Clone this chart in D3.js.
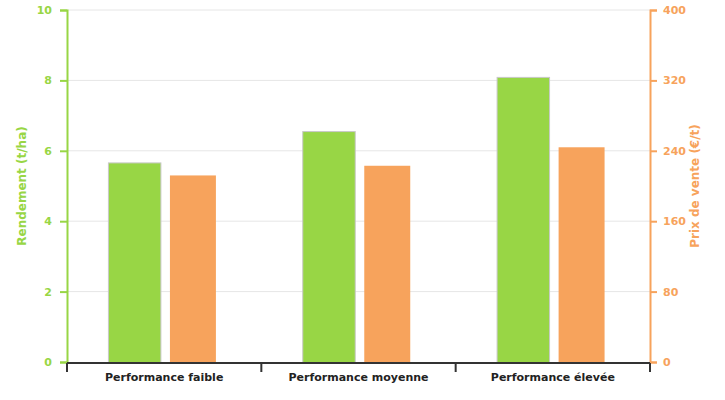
<!DOCTYPE html>
<html>
<head>
<meta charset="utf-8">
<script src="https://cdn.jsdelivr.net/npm/d3@7"></script>
<style>
  body { margin: 0; background: #fff; }
  svg text { font-family: "DejaVu Sans", sans-serif; font-weight: bold; }
</style>
</head>
<body>
<div id="chart"></div>
<script>
const categories = ['Performance faible', 'Performance moyenne', 'Performance élevée'];
const rendement = [5.67, 6.56, 8.1];      // t/ha
const prix = [212, 223, 244];             // €/t
const leftTicks = [0, 2, 4, 6, 8, 10];
const rightTicks = [0, 80, 160, 240, 320, 400];

const width = 725, height = 400;
const margin = { top: 10, right: 75, bottom: 38, left: 67 };
const innerW = width - margin.left - margin.right;
const innerH = height - margin.top - margin.bottom;

const green = '#98d645', orange = '#f7a35c';

const svg = d3.select('#chart')
  .append('svg')
  .attr('width', width)
  .attr('height', height);

const g = svg.append('g')
  .attr('transform', `translate(${margin.left},${margin.top})`);

const x0 = d3.scaleBand()
  .domain(categories)
  .range([0, innerW]);

const x1 = d3.scaleBand()
  .domain(['rendement', 'prix'])
  .range([0, x0.bandwidth()])
  .paddingInner(0.186)
  .paddingOuter(0.66);

const yL = d3.scaleLinear().domain([0, 10]).range([innerH, 0]);
const yR = d3.scaleLinear().domain([0, 400]).range([innerH, 0]);

// grid
g.selectAll('.grid')
  .data(leftTicks.slice(1))
  .enter()
  .append('line')
  .attr('x1', 0)
  .attr('x2', innerW)
  .attr('y1', d => yL(d))
  .attr('y2', d => yL(d))
  .attr('stroke', '#e6e6e6')
  .attr('stroke-width', 1);

// bars
const bw = x1.bandwidth();

g.selectAll('.bar-r')
  .data(rendement)
  .enter()
  .append('rect')
  .attr('x', (d, i) => x0(categories[i]) + x1('rendement') + 0.5)
  .attr('y', d => yL(d) + 0.5)
  .attr('width', bw + 2)
  .attr('height', d => innerH - yL(d))
  .attr('fill', green)
  .attr('stroke', '#c8c8c8')
  .attr('stroke-width', 1);

g.selectAll('.bar-p')
  .data(prix)
  .enter()
  .append('rect')
  .attr('x', (d, i) => x0(categories[i]) + x1('prix'))
  .attr('y', d => yR(d))
  .attr('width', bw - 4.5)
  .attr('height', d => innerH - yR(d))
  .attr('fill', orange);

// left axis
const axL = g.append('g')
  .call(d3.axisLeft(yL).tickValues(leftTicks).tickSize(7).tickPadding(8));
axL.select('.domain').attr('stroke', green).attr('stroke-width', 2);
axL.selectAll('.tick line').attr('stroke', green).attr('stroke-width', 2);
axL.selectAll('.tick text').attr('fill', green).style('font-size', '11px');

// right axis
const axR = g.append('g')
  .attr('transform', `translate(${innerW},0)`)
  .call(d3.axisRight(yR).tickValues(rightTicks).tickSize(7).tickPadding(6));
axR.select('.domain').attr('stroke', orange).attr('stroke-width', 2);
axR.selectAll('.tick line').attr('stroke', orange).attr('stroke-width', 2);
axR.selectAll('.tick text').attr('fill', orange).style('font-size', '11px');

// x axis
const axX = g.append('g')
  .attr('transform', `translate(0,${innerH + 1})`)
  .call(d3.axisBottom(x0).tickSize(0).tickPadding(10));
axX.select('.domain').remove();
axX.selectAll('.tick text').attr('fill', '#222').style('font-size', '11px');

g.append('line')
  .attr('x1', 0).attr('x2', innerW)
  .attr('y1', innerH + 1).attr('y2', innerH + 1)
  .attr('stroke', '#333').attr('stroke-width', 2);

const bounds = categories.map(c => x0(c)).concat([innerW]);
g.selectAll('.xtick')
  .data(bounds)
  .enter()
  .append('line')
  .attr('x1', d => d).attr('x2', d => d)
  .attr('y1', innerH + 1).attr('y2', innerH + 10)
  .attr('stroke', '#333').attr('stroke-width', 2);

// axis titles
svg.append('text')
  .attr('transform', `translate(26,${margin.top + innerH / 2}) rotate(-90)`)
  .attr('text-anchor', 'middle')
  .attr('fill', green)
  .style('font-size', '12px')
  .text('Rendement (t/ha)');

svg.append('text')
  .attr('transform', `translate(699,${margin.top + innerH / 2}) rotate(-90)`)
  .attr('text-anchor', 'middle')
  .attr('fill', orange)
  .style('font-size', '12px')
  .text('Prix de vente (€/t)');
</script>
</body>
</html>
